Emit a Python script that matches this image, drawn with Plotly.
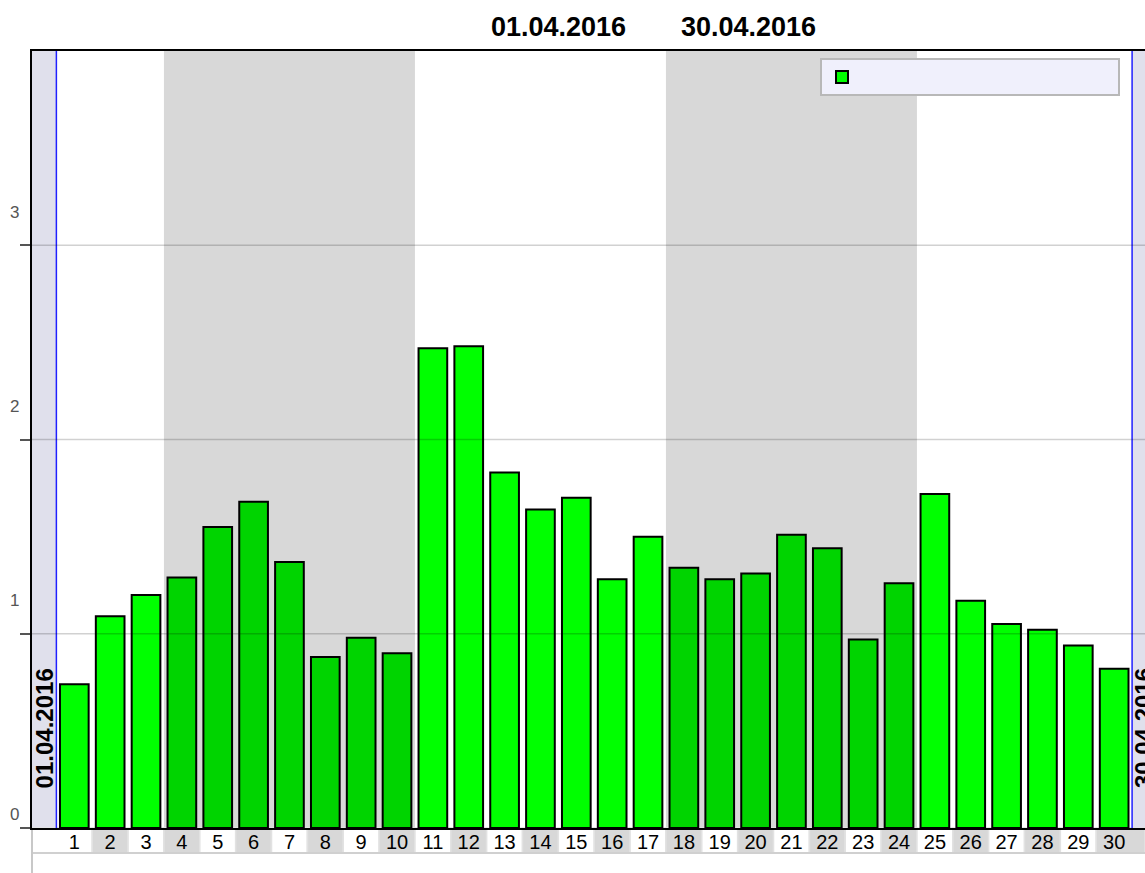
import plotly.graph_objects as go

# ---- data ----
days = list(range(1, 31))
values = [0.74, 1.09, 1.20, 1.29, 1.55, 1.68, 1.37, 0.88, 0.98, 0.90,
          2.47, 2.48, 1.83, 1.64, 1.70, 1.28, 1.50, 1.34, 1.28, 1.31,
          1.51, 1.44, 0.97, 1.26, 1.72, 1.17, 1.05, 1.02, 0.94, 0.82]
tick_labels = [str(d) for d in days]
shaded_weeks = [(4, 10), (18, 24)]
y_ticks = [0, 1, 2, 3]
y_tick_shift = [14, 33, 33, 33]
start_label = "01.04.2016"
end_label = "30.04.2016"

BRIGHT = "#00FF00"
DARK = "#00D400"
X_RANGE = [-0.18, 30.86]
Y_RANGE = [0, 4.0]
FONT = "Liberation Sans, Arial, sans-serif"

W, H = 1145, 873
ML, MR, MT, MB = 32, 0, 51, 45
plot_w = W - ML - MR
plot_h = H - MT - MB


def in_shaded(d):
    return any(a <= d <= b for a, b in shaded_weeks)


def xpaper(x):
    return (x - X_RANGE[0]) / (X_RANGE[1] - X_RANGE[0])


colors = [DARK if in_shaded(d) else BRIGHT for d in days]

fig = go.Figure()
fig.add_trace(go.Bar(
    x=days, y=values, width=0.8, name=" ",
    marker=dict(color=colors, line=dict(color="black", width=2)),
    showlegend=True,
))

shapes = []
# side (out of period) areas
shapes.append(dict(type="rect", xref="x", yref="paper", x0=X_RANGE[0], x1=days[0] - 0.5,
                   y0=0, y1=1, fillcolor="#E0E0EC", line=dict(width=0), layer="below"))
shapes.append(dict(type="rect", xref="x", yref="paper", x0=days[-1] + 0.5, x1=X_RANGE[1],
                   y0=0, y1=1, fillcolor="#E0E0EC", line=dict(width=0), layer="below"))
# shaded weeks
for a, b in shaded_weeks:
    shapes.append(dict(type="rect", xref="x", yref="paper", x0=a - 0.5, x1=b + 0.5,
                       y0=0, y1=1, fillcolor="#D8D8D8", line=dict(width=0), layer="below"))
# period boundaries
for xb in (days[0] - 0.5, days[-1] + 0.5):
    shapes.append(dict(type="line", xref="x", yref="paper", x0=xb, x1=xb, y0=0, y1=1,
                       line=dict(color="#2020FF", width=1.5), layer="above"))
# grid lines above bars
for v in y_ticks[1:]:
    shapes.append(dict(type="line", xref="paper", yref="y", x0=0, x1=1, y0=v, y1=v,
                       line=dict(color="rgba(0,0,0,0.18)", width=1.5), layer="above"))
# label cells under axis
cell_h = 25 / plot_h
for i, d in enumerate(days):
    x0 = X_RANGE[0] if i == 0 else d - 0.5
    x1 = X_RANGE[1] if i == len(days) - 1 else d + 0.5
    shapes.append(dict(type="rect", xref="paper", yref="paper", x0=xpaper(x0), x1=xpaper(x1),
                       y0=-cell_h, y1=0,
                       fillcolor="#FFFFFF" if d % 2 == 1 else "#D8D8D8",
                       line=dict(color="#E2E2E2", width=1.5), layer="below"))
shapes.append(dict(type="line", xref="paper", yref="paper", x0=0, x1=1, y0=-cell_h, y1=-cell_h,
                   line=dict(color="#D0D0D0", width=2), layer="below"))
shapes.append(dict(type="line", xref="paper", yref="paper", x0=0, x1=0, y0=-MB / plot_h, y1=0,
                   line=dict(color="#C8C8C8", width=2), layer="below"))

annotations = []
for v, s in zip(y_ticks, y_tick_shift):
    annotations.append(dict(xref="paper", yref="y", x=0, y=v, xshift=-18, yshift=s,
                            text=str(v), showarrow=False, xanchor="center", yanchor="middle",
                            font=dict(size=17, color="#555555", family=FONT)))
# title dates
annotations.append(dict(xref="paper", yref="paper", x=(558 - ML) / plot_w, y=1, yshift=24,
                        text="<b>%s</b>" % start_label, showarrow=False,
                        xanchor="center", yanchor="middle",
                        font=dict(size=27, color="black", family=FONT)))
annotations.append(dict(xref="paper", yref="paper", x=(748 - ML) / plot_w, y=1, yshift=24,
                        text="<b>%s</b>" % end_label, showarrow=False,
                        xanchor="center", yanchor="middle",
                        font=dict(size=27, color="black", family=FONT)))
# rotated period labels
annotations.append(dict(xref="x", yref="y", x=days[0] - 0.5, y=0, xshift=-12, yshift=38,
                        text="<b>%s</b>" % start_label, textangle=-90, showarrow=False,
                        xanchor="center", yanchor="bottom",
                        font=dict(size=24, color="black", family=FONT)))
annotations.append(dict(xref="x", yref="y", x=days[-1] + 0.5, y=0, xshift=11, yshift=38,
                        text="<b>%s</b>" % end_label, textangle=-90, showarrow=False,
                        xanchor="center", yanchor="bottom",
                        font=dict(size=24, color="black", family=FONT)))

fig.update_layout(
    width=W, height=H,
    margin=dict(l=ML, r=MR, t=MT, b=MB, pad=0),
    paper_bgcolor="white", plot_bgcolor="white",
    bargap=0.2,
    shapes=shapes, annotations=annotations,
    font=dict(family=FONT),
    legend=dict(orientation="h", x=(820 - ML) / plot_w, y=1 - (58 - MT) / plot_h,
                xanchor="left", yanchor="top",
                bgcolor="#F0F0FC", bordercolor="#B8B8B8", borderwidth=2,
                entrywidth=251, entrywidthmode="pixels",
                font=dict(size=16)),
    xaxis=dict(range=X_RANGE, tickvals=days, ticktext=tick_labels, ticks="",
               ticklabelstandoff=-5,
               showgrid=False, zeroline=False, showline=True, linecolor="black", linewidth=2,
               mirror=True, tickfont=dict(size=20, color="black"), fixedrange=True),
    yaxis=dict(range=Y_RANGE, tickvals=y_ticks, showticklabels=False, ticks="outside",
               ticklen=10, tickwidth=2, tickcolor="#555555",
               showgrid=False, zeroline=False, showline=True, linecolor="black", linewidth=2,
               fixedrange=True),
)

fig.write_html("out.html", config={"displayModeBar": False},
               post_script="document.body.style.margin='0px';document.body.style.overflow='hidden';")
